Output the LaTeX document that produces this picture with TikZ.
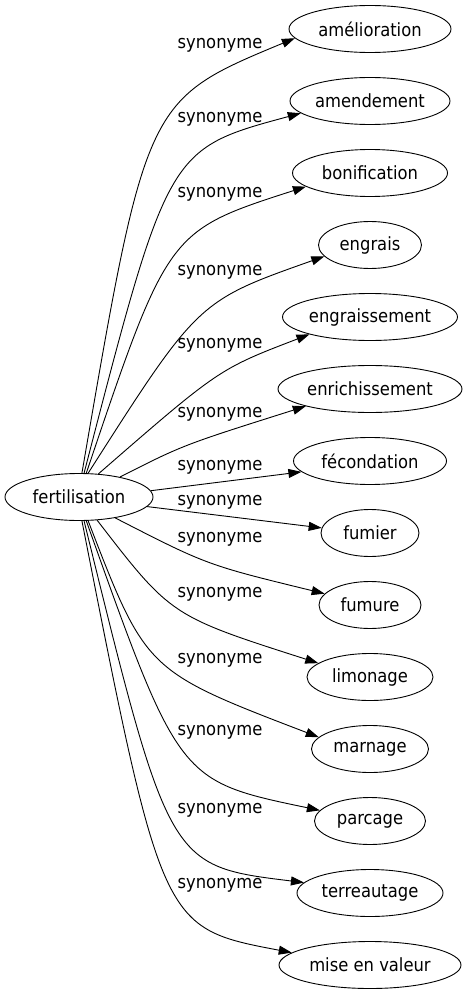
\documentclass[tikz,border=0pt]{standalone}
\usepackage{fontspec}
\setmainfont{DejaVu Sans Condensed}
\usetikzlibrary{shapes.geometric,arrows.meta}

\begin{document}
\begin{tikzpicture}[x=1pt,y=-1pt,
  word/.style={ellipse,draw,line width=0.9pt,inner sep=0pt,minimum height=47pt,font=\fontsize{18.2}{22}\selectfont},
  rel/.style={line width=0.9pt,-{Triangle[length=13pt,width=9pt]}},
  lbl/.style={inner sep=0pt,font=\fontsize{18.2}{22}\selectfont}]
\useasboundingbox (0,0) rectangle (467,995);

% source
\node[word,minimum width=148pt] (fert) at (79,497) {fertilisation};

% synonyms
\node[word,minimum width=162pt] (amel) at (370,29) {amélioration};
\node[word,minimum width=160pt] (amend) at (370,101) {amendement};
\node[word,minimum width=155pt] (bonif) at (370,173) {bonification};
\node[word,minimum width=103pt] (engr) at (370,245) {engrais};
\node[word,minimum width=175pt] (engrm) at (370,317) {engraissement};
\node[word,minimum width=184pt] (enrich) at (370,389) {enrichissement};
\node[word,minimum width=153pt] (fecond) at (370,461) {fécondation};
\node[word,minimum width=98pt] (fumier) at (370,533) {fumier};
\node[word,minimum width=102pt] (fumure) at (370,605) {fumure};
\node[word,minimum width=126pt] (limon) at (370,677) {limonage};
\node[word,minimum width=117pt] (marn) at (370,749) {marnage};
\node[word,minimum width=111pt] (parc) at (370,821) {parcage};
\node[word,minimum width=146pt] (terr) at (370,893) {terreautage};
\node[word,minimum width=182pt] (mise) at (370,965) {mise en valeur};

% edges
\draw[rel] (fert.83) .. controls (146,100) .. (amel.187);
\draw[rel] (fert.78) .. controls (168,149) .. (amend.190);
\draw[rel] (fert.73) .. controls (168,231) .. (bonif.192);
\draw[rel] (fert.69) .. controls (198,301) .. (engr.194);
\draw[rel] (fert.50) .. controls (219,369) .. (engrm.196);
\draw[rel] (fert.26) .. controls (183,445) .. (enrich.195);
\draw[rel] (fert.5) -- (fecond.189);
\draw[rel] (fert.352) -- (fumier.174);
\draw[rel] (fert.330) .. controls (207,565) .. (fumure.166);
\draw[rel] (fert.308) .. controls (171,616) .. (limon.165);
\draw[rel] (fert.291) .. controls (146,671) .. (marn.167);
\draw[rel] (fert.287) .. controls (179,781) .. (parc.168);
\draw[rel] (fert.282) .. controls (169,866) .. (terr.171);
\draw[rel] (fert.277) .. controls (162,928) .. (mise.171);

% edge labels
\node[lbl] (s1) at (220,45) {synonyme};
\node[lbl] (s2) at (220,119) {synonyme};
\node[lbl] (s3) at (220,194) {synonyme};
\node[lbl] (s4) at (220,272) {synonyme};
\node[lbl] (s5) at (220,345) {synonyme};
\node[lbl] (s6) at (220,414) {synonyme};
\node[lbl] (s7) at (220,467) {synonyme};
\node[lbl] (s8) at (220,502) {synonyme};
\node[lbl] (s9) at (220,539) {synonyme};
\node[lbl] (s10) at (220,594) {synonyme};
\node[lbl] (s11) at (220,660) {synonyme};
\node[lbl] (s12) at (220,732) {synonyme};
\node[lbl] (s13) at (220,810) {synonyme};
\node[lbl] (s14) at (220,885) {synonyme};
\end{tikzpicture}
\end{document}
